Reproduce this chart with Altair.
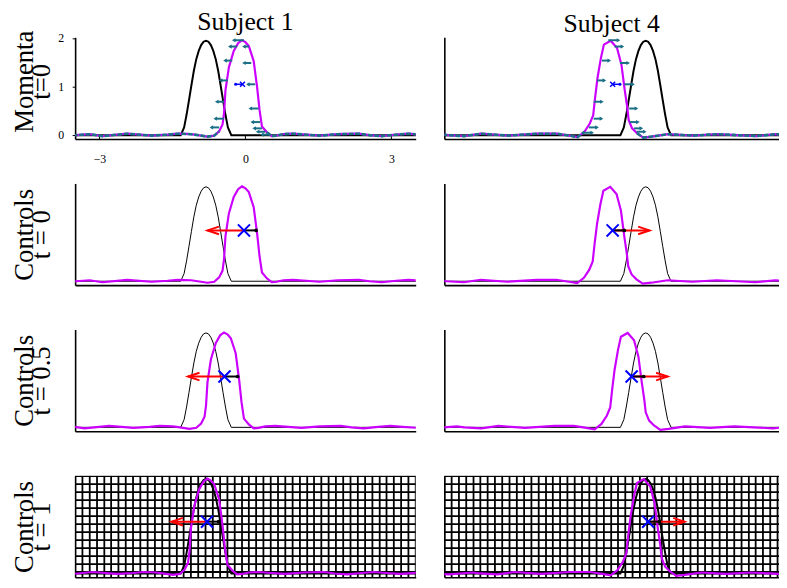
import altair as alt
import pandas as pd

FONT = "Liberation Serif"
NB = "\u00a0"
MAGENTA = "#cc00ff"
TEAL = "#1b6f86"
BLUE = "#0000ff"
RED = "#ff0000"

subjects = ["Subject 1", "Subject 4"]
row_titles = [
    ["Momenta", "t=0" + NB * 10],
    ["Controls", "t = 0" + NB * 4],
    ["Controls", "t = 0.5"],
    ["Controls", "t = 1" + NB * 4],
]
x_ticks = [-3, 0, 3]
y_ticks = [0, 1, 2]
y_tick_labels = ["0", "1", "2"]
x_min = -3.5
x_max = {"Subject 1": 3.5, "Subject 4": 3.38}
panel_w = {"Subject 1": 345, "Subject 4": 339}
panel_h = 103
y_min, y_max = -0.08, 2.02

# template (black) bump, offsets from its centre
tmpl_u = [-5.0, -0.52, -0.45, -0.40, -0.35, -0.30, -0.25, -0.20, -0.15, -0.10, -0.05, 0.0,
          0.05, 0.10, 0.15, 0.20, 0.25, 0.30, 0.35, 0.40, 0.45, 0.52, 5.0]
tmpl_v = [0.0, 0.0, 0.16, 0.42, 0.72, 1.03, 1.33, 1.57, 1.74, 1.86, 1.93, 1.95,
          1.93, 1.86, 1.74, 1.57, 1.33, 1.03, 0.72, 0.42, 0.16, 0.0, 0.0]
tmpl_center = {"Subject 1": -0.81, "Subject 4": 0.64}

# subject (magenta) curves at t=0
s1_x = [-4.6, -4.2, -3.9, -3.48, -3.2, -2.94, -2.43, -1.93, -1.6, -1.39, -1.12, -0.91, -0.78,
        -0.64, -0.54, -0.47, -0.44, -0.41, -0.34, -0.24, -0.15, -0.07, 0.0, 0.07, 0.17, 0.24,
        0.29, 0.34, 0.44, 0.54, 0.64, 0.78, 0.98, 1.25, 1.52, 1.9, 2.33, 2.55, 2.8, 3.1, 3.35,
        3.6, 3.9, 4.3, 4.6]
s1_y = [0.0, 0.03, -0.02, 0.0, 0.02, -0.02, 0.03, -0.01, 0.01, 0.03, 0.02, -0.01, -0.03,
        -0.01, 0.08, 0.22, 0.45, 0.93, 1.40, 1.74, 1.90, 1.96, 1.92, 1.84, 1.53, 0.99,
        0.52, 0.18, 0.06, -0.02, -0.01, 0.02, 0.03, 0.01, -0.01, 0.02, 0.03, 0.0, -0.02, 0.01, 0.03,
        0.01, -0.01, 0.02, 0.0]
s4_x = [-4.6, -4.1, -3.6, -3.45, -3.1, -2.75, -2.2, -1.6, -1.2, -0.94, -0.77, -0.63, -0.52,
        -0.45, -0.41, -0.36, -0.29, -0.23, -0.09, 0.04, 0.13, 0.2, 0.25, 0.28, 0.35, 0.45, 0.58,
        0.75, 1.09, 1.6, 2.1, 2.5, 2.9, 3.3, 3.8, 4.3, 4.6]
s4_y = [0.01, -0.02, 0.02, 0.0, -0.02, 0.03, -0.01, 0.03, 0.03, -0.01, -0.04, 0.07, 0.24,
        0.41, 0.78, 1.19, 1.6, 1.87, 1.95, 1.80, 1.46, 0.92, 0.58, 0.31, 0.14, 0.04, -0.05,
        -0.03, 0.02, -0.01, 0.02, 0.0, -0.02, 0.02, -0.01, 0.02, 0.0]
subj_x = {"Subject 1": s1_x, "Subject 4": s4_x}
subj_y = {"Subject 1": s1_y, "Subject 4": s4_y}
subj_peak = {"Subject 1": -0.07, "Subject 4": -0.09}
# translation of the subject curve in each row (t = 0, 0, 0.5, 1)
subj_shift = {"Subject 1": [0.0, 0.0, -0.37, -0.71], "Subject 4": [0.01, 0.0, 0.36, 0.69]}

# momenta arrows (row 1): tail x, head x, y
mom_tail = {
    "Subject 1": [-0.03, -0.17, -0.27, -0.36, -0.44, -0.44, -0.54, 0.07, 0.12, 0.20, 0.27, 0.30, 0.34, 0.41, 0.51],
    "Subject 4": [-0.13, 0.0, 0.11, 0.20, 0.30, 0.31, 0.40, 0.45, -0.26, -0.36, -0.43, -0.43, -0.53, -0.63],
}
mom_head = {
    "Subject 1": [-0.24, -0.32, -0.42, -0.51, -0.59, -0.62, -0.70, -0.03, -0.03, 0.05, 0.10, 0.14, 0.18, 0.25, 0.34],
    "Subject 4": [0.08, 0.16, 0.28, 0.38, 0.45, 0.48, 0.55, 0.62, -0.11, -0.21, -0.26, -0.27, -0.36, -0.46],
}
mom_y = {
    "Subject 1": [1.96, 1.83, 1.54, 1.13, 0.69, 0.34, 0.16, 1.83, 1.49, 1.05, 0.55, 0.27, 0.14, 0.07, 0.01],
    "Subject 4": [1.96, 1.83, 1.49, 1.05, 0.55, 0.27, 0.14, 0.07, 1.54, 1.13, 0.69, 0.34, 0.16, 0.05],
}
# small blue marker (row 1)
mark_x = {"Subject 1": -0.06, "Subject 4": -0.04}
mark_end = {"Subject 1": -0.20, "Subject 4": 0.11}
mark_y = 1.05

# controls (rows 2-4)
ctrl_x = {"Subject 1": [-0.03, -0.43, -0.79], "Subject 4": [-0.04, 0.35, 0.69]}
ctrl_y = [1.05, 1.05, 1.07]
red_head = {"Subject 1": [-0.78, -1.18, -1.52], "Subject 4": [0.72, 1.09, 1.44]}
black_end = {"Subject 1": [0.22, -0.16, -0.55], "Subject 4": [0.20, 0.60, 0.92]}

# deformation grid (row 4)
grid_vx = [-3.50, -3.35, -3.20, -3.05, -2.90, -2.76, -2.61, -2.46, -2.31, -2.16, -2.01, -1.86,
           -1.71, -1.56, -1.41, -1.27, -1.12, -0.97, -0.82, -0.67, -0.52, -0.37, -0.22, -0.07,
           0.07, 0.22, 0.37, 0.52, 0.67, 0.82, 0.97, 1.12, 1.27, 1.41, 1.56, 1.71, 1.86, 2.01,
           2.16, 2.31, 2.46, 2.61, 2.76, 2.90, 3.05, 3.20, 3.35, 3.50]
grid_hy = [0.03, 0.195, 0.36, 0.525, 0.69, 0.855, 1.02, 1.185, 1.35, 1.515, 1.68, 1.845, 2.01]

X_SHAPE = "M-1,-1L1,1M-1,1L1,-1"
HEAD_LEFT = "M3,-1L0,0L3,1"
HEAD_RIGHT = "M-3,-1L0,0L-3,1"


def make_panel(subj, r):
    first = subj == "Subject 1"
    xs = alt.Scale(domain=[x_min, x_max[subj]], nice=False, zero=False)
    ys = alt.Scale(domain=[y_min, y_max], nice=False, zero=False)
    dom = dict(domainColor="black", domainWidth=1.6, grid=False)
    if r == 0 and first:
        xaxis = alt.Axis(values=x_ticks, ticks=False, labelPadding=15, labelFont=FONT,
                         labelFontSize=12, labelColor="black", title="", labelFlush=False,
                         labelOverlap=False, format="d", **dom)
    else:
        xaxis = alt.Axis(labels=False, ticks=False, title="", **dom)
    ttl = dict(titleFont=FONT, titleFontSize=27, titleFontWeight="normal", titleColor="black",
               titleLineHeight=17, titleX=-37, titleBaseline="bottom", titleAlign="center")
    if r == 0:
        ttl["titleY"] = panel_h / 2 - 7
    if first:
        if r == 0:
            yaxis = alt.Axis(values=y_ticks, tickSize=3, tickColor="black", labels=False,
                             title=row_titles[r], **ttl, **dom)
        else:
            yaxis = alt.Axis(labels=False, ticks=False, title=row_titles[r], **ttl, **dom)
    else:
        yaxis = alt.Axis(labels=False, ticks=False, title="", **dom)

    X = lambda f: alt.X(f, scale=xs, axis=xaxis)
    Y = lambda f: alt.Y(f, scale=ys, axis=yaxis)
    layers = []

    if r == 3:
        gv = pd.DataFrame({"x": grid_vx, "y": y_min, "y2": y_max})
        layers.append(alt.Chart(gv).mark_rule(color="black", strokeWidth=1.8, clip=True)
                      .encode(x=X("x:Q"), y=Y("y:Q"), y2="y2:Q"))
        gh = pd.DataFrame({"y": grid_hy, "x": x_min, "x2": x_max[subj]})
        layers.append(alt.Chart(gh).mark_rule(color="black", strokeWidth=1.8, clip=True)
                      .encode(y=Y("y:Q"), x=X("x:Q"), x2="x2:Q"))

    tdf = pd.DataFrame({"x": [tmpl_center[subj] + u for u in tmpl_u], "y": tmpl_v})
    bw = 2.0 if r in (0, 3) else 1.0
    layers.append(alt.Chart(tdf).mark_line(color="black", strokeWidth=bw, clip=True)
                  .encode(x=X("x:Q"), y=Y("y:Q")))

    if r == 0:
        # y tick labels (drawn as text so every one of them shows; invisible on the right panel
        # so both titles sit at the same height)
        yl = pd.DataFrame({"y": y_ticks, "label": y_tick_labels})
        layers.append(alt.Chart(yl).mark_text(align="right", baseline="middle", font=FONT,
                                              fontSize=12, color="black",
                                              opacity=1 if first else 0)
                      .encode(y=Y("y:Q"), x=alt.value(-11), text="label:N"))
    if r == 0 and first:
        tk = pd.DataFrame({"x": x_ticks, "y": y_min, "y2": 0.0})
        layers.append(alt.Chart(tk).mark_rule(color="black", strokeWidth=1)
                      .encode(x=X("x:Q"), y=Y("y:Q"), y2="y2:Q"))

    sh = subj_shift[subj][r]
    mdf = pd.DataFrame({"x": [v + sh for v in subj_x[subj]], "y": subj_y[subj]})
    layers.append(alt.Chart(mdf).mark_line(color=MAGENTA, strokeWidth=2.2, clip=True)
                  .encode(x=X("x:Q"), y=Y("y:Q")))

    if r == 0:
        pk = subj_peak[subj] + sh
        base = mdf[(mdf["y"] < 0.09) & ((mdf["x"] - pk).abs() > 0.4)].copy()
        base["side"] = ["L" if v < pk else "R" for v in base["x"]]
        layers.append(alt.Chart(base).mark_line(color=TEAL, strokeWidth=2.6, strokeDash=[5, 1.5],
                                                clip=True)
                      .encode(x=X("x:Q"), y=Y("y:Q"), detail="side:N"))
        adf = pd.DataFrame({"x": mom_tail[subj], "x2": mom_head[subj], "y": mom_y[subj]})
        layers.append(alt.Chart(adf).mark_rule(color=TEAL, strokeWidth=2)
                      .encode(x=X("x:Q"), x2="x2:Q", y=Y("y:Q")))
        layers.append(alt.Chart(adf).mark_point(
            shape="triangle-left" if first else "triangle-right", size=18, filled=True,
            color=TEAL, opacity=1)
            .encode(x=X("x2:Q"), y=Y("y:Q")))
        bm = pd.DataFrame({"x": [mark_x[subj]], "x2": [mark_end[subj]], "y": [mark_y]})
        layers.append(alt.Chart(bm).mark_rule(color=BLUE, strokeWidth=1.5)
                      .encode(x=X("x:Q"), x2="x2:Q", y=Y("y:Q")))
        layers.append(alt.Chart(bm).mark_point(shape="circle", size=10, filled=True, color=BLUE,
                                               opacity=1)
                      .encode(x=X("x2:Q"), y=Y("y:Q")))
        layers.append(alt.Chart(bm).mark_point(shape=X_SHAPE, size=25, filled=False, color=BLUE,
                                               strokeWidth=1.5, opacity=1)
                      .encode(x=X("x:Q"), y=Y("y:Q")))
    else:
        i = r - 1
        cdf = pd.DataFrame({"x": [ctrl_x[subj][i]], "red": [red_head[subj][i]],
                            "blk": [black_end[subj][i]], "y": [ctrl_y[i]]})
        layers.append(alt.Chart(cdf).mark_rule(color=RED, strokeWidth=2)
                      .encode(x=X("x:Q"), x2="red:Q", y=Y("y:Q")))
        layers.append(alt.Chart(cdf).mark_point(shape=HEAD_LEFT if first else HEAD_RIGHT,
                                                size=60, filled=False, color=RED,
                                                strokeWidth=2, opacity=1)
                      .encode(x=X("red:Q"), y=Y("y:Q")))
        layers.append(alt.Chart(cdf).mark_rule(color="black", strokeWidth=2)
                      .encode(x=X("x:Q"), x2="blk:Q", y=Y("y:Q")))
        layers.append(alt.Chart(cdf).mark_point(shape="circle", size=14, filled=True,
                                                color="black", opacity=1)
                      .encode(x=X("blk:Q"), y=Y("y:Q")))
        layers.append(alt.Chart(cdf).mark_point(shape=X_SHAPE, size=150, filled=False,
                                                color=BLUE, strokeWidth=2, opacity=1)
                      .encode(x=X("x:Q"), y=Y("y:Q")))

    props = dict(width=panel_w[subj], height=panel_h)
    if r == 0:
        props["title"] = alt.TitleParams(text=subj, font=FONT, fontSize=26, fontWeight="normal",
                                         color="black", anchor="middle", frame="group",
                                         baseline="alphabetic", offset=-26)
    return alt.layer(*layers).properties(**props)


panels = [make_panel(s, r) for r in range(4) for s in subjects]

chart = alt.concat(*panels, columns=2, spacing=alt.RowColnumber(row=45, column=29),
                   bounds="flush").properties(
    padding={"left": 3, "top": -3, "right": 0, "bottom": 0},
    background="white",
).configure_view(stroke=None)

chart.save("out.html", embed_options={"renderer": "svg", "actions": False})
